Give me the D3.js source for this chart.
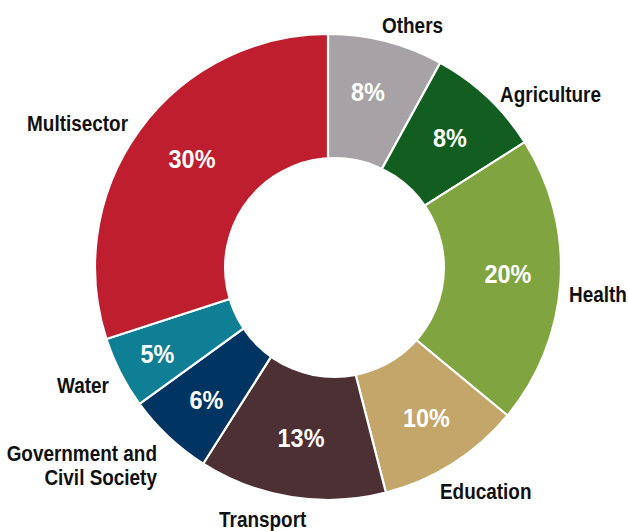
<!DOCTYPE html>
<html><head><meta charset="utf-8">
<script src="https://cdn.jsdelivr.net/npm/d3@7"></script>
<style>
html,body{margin:0;padding:0;background:#fff;}
text{font-family:"Liberation Sans",Arial,Helvetica,sans-serif;font-weight:bold;}
</style></head>
<body>
<svg id="chart" width="628" height="531"></svg>
<script>
const categories = ["Others","Agriculture","Health","Education","Transport","Government and\nCivil Society","Water","Multisector"];
const values = [8, 8, 20, 10, 13, 6, 5, 30];
const colors = ["#a7a2a5","#115e20","#80a540","#c4a66a","#4d3033","#003462","#0e7f95","#be1e2d"];

const data = categories.map((c,i)=>({name:c, value:values[i], color:colors[i]}));
const cx=328, cy=267, R=233, r=110.5;
const holeDx = 6.5, holeDy = 0.5;

const svg = d3.select("#chart");
const g = svg.append("g").attr("transform",`translate(${cx},${cy})`);
const pie = d3.pie().value(d=>d.value).sort(null);
const arcs = pie(data);
const arc = d3.arc().innerRadius(0).outerRadius(R);

g.selectAll("path.slice").data(arcs).enter().append("path")
  .attr("class","slice").attr("d",arc).attr("fill",d=>d.data.color)
  .attr("stroke","#fff").attr("stroke-width",2.2).attr("stroke-linejoin","round");

g.append("circle").attr("cx",holeDx).attr("cy",holeDy).attr("r",r).attr("fill","#fff");

function polar(a, rad){ return [Math.sin(a)*rad, -Math.cos(a)*rad]; }
const D = Math.PI/180;

// percent label layout tweaks
const pctShift = {"Others":-1.6, "Health":-1.5, "Multisector":2.6, "Education":-0.7, "Government and\nCivil Society":-0.7};
const pctR = {"Water":191.5, "Transport":172.5, "Multisector":174, "Agriculture":178};
const pctScale = 0.9;

g.selectAll("text.pct").data(arcs).enter().append("text")
  .attr("class","pct")
  .attr("transform",d=>{
    const mid=(d.startAngle+d.endAngle)/2 + (pctShift[d.data.name]||0)*D;
    const p=polar(mid, pctR[d.data.name]||180);
    return `translate(${p[0]},${p[1]}) scale(${pctScale},1)`;
  })
  .attr("text-anchor","middle").attr("dy","0.36em")
  .attr("fill","#fff").style("font-size","26px")
  .text(d=>Math.round(d.value)+"%");

// outer label layout tweaks
const outNudge = {
  "Others":[-6.4,1.4], "Agriculture":[5.7,12.1], "Health":[-1.5,19.7], "Education":[-18.2,26.8],
  "Transport":[-27.3,20.4], "Government and\nCivil Society":[-4.7,16.9], "Water":[-2.5,15.7], "Multisector":[-3.4,6.8]
};
const labScale = 0.88, lineGap = 24;
g.selectAll("text.lab").data(arcs).enter().append("text")
  .attr("class","lab")
  .each(function(d){
    const mid=(d.startAngle+d.endAngle)/2;
    const p=polar(mid, R+10);
    const n=outNudge[d.data.name]||[0,0];
    const deg=mid*180/Math.PI;
    const anchor = (deg>170 && deg<200) ? "middle" : (deg<180 ? "start" : "end");
    const t=d3.select(this).attr("text-anchor",anchor).attr("fill","#111").style("font-size","21.5px")
      .attr("transform",`translate(${p[0]+n[0]},${p[1]+n[1]}) scale(${labScale},1)`);
    d.data.name.split("\n").forEach((ln,i)=>{
      t.append("tspan").attr("x",0).attr("y",i*lineGap).text(ln);
    });
  });
</script>
</body></html>
